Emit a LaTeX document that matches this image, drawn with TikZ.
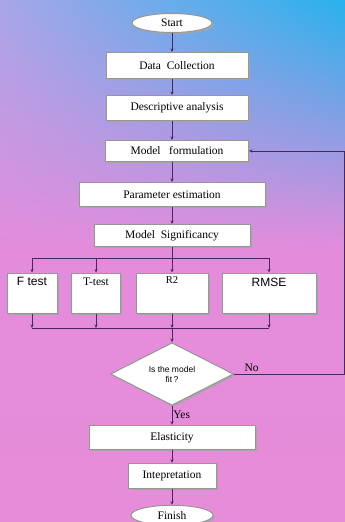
\documentclass[tikz,border=0pt]{standalone}
\usepackage{fontspec}
\setmainfont{Liberation Serif}
\newfontfamily\arialfont{Liberation Sans}
\usetikzlibrary{arrows.meta,positioning,shapes.geometric,shadows,shadings}

\definecolor{skyTL}{RGB}{168,166,232}
\definecolor{skyTR}{RGB}{40,178,236}
\definecolor{pinkL}{RGB}{228,140,220}
\definecolor{pinkB}{RGB}{230,140,216}
\definecolor{lineC}{RGB}{72,40,92}
\definecolor{rimC}{RGB}{150,150,150}

\begin{document}
\begin{tikzpicture}[
  x=1pt, y=-1pt,
  every node/.style={align=center, font=\fontsize{11.5}{13}\selectfont},
  box/.style={draw=rimC, line width=1pt, fill=white, inner sep=0pt,
    drop shadow={shadow xshift=1.5pt, shadow yshift=-1.5pt, fill=gray!70, opacity=1}},
  endbox/.style={box, ellipse},
  testbox/.style={box, minimum height=40pt},
  boxlabel/.style={anchor=north, inner sep=0pt, yshift=-5pt},
  decbox/.style={box, diamond, minimum width=123pt, minimum height=58pt,
    font=\arialfont\fontsize{8.5}{10}\selectfont},
  arrow/.style={-{Stealth[length=3.5pt, width=3pt]}, draw=lineC, line width=0.6pt},
  wire/.style={draw=lineC, line width=0.6pt}
]
  % background
  \shade[upper left=skyTL, upper right=skyTR, lower left=pinkL, lower right=pinkL]
    (0,0) rectangle (345,250);
  \shade[top color=pinkL, bottom color=pinkB] (0,250) rectangle (345,522);
  \useasboundingbox (0,0) rectangle (345,522);

  % main chain
  \node[endbox, minimum width=80pt, minimum height=19pt] (start) at (172,23) {Start};
  \node[box, minimum width=142pt, minimum height=26pt, below=19pt of start, xshift=5pt] (data) {Data\ \ Collection};
  \node[box, minimum width=142pt, minimum height=25pt, below=16pt of data] (desc) {Descriptive analysis};
  \node[box, minimum width=143pt, minimum height=21pt, below=19pt of desc] (model) {Model\ \ \ formulation};
  \node[box, minimum width=186pt, minimum height=24pt, below=20pt of model, xshift=-5pt] (param) {Parameter estimation};
  \node[box, minimum width=156pt, minimum height=22pt, below=17pt of param] (signif) {Model\ \ Significancy};

  % tests
  \node[testbox, minimum width=50pt, label={[boxlabel, font=\arialfont\fontsize{12}{14}\selectfont]north:F test}] (ftest) at (32,293) {};
  \node[testbox, minimum width=49pt, label={[boxlabel]north:T-test}] (ttest) at (96,293) {};
  \node[testbox, minimum width=72pt, label={[boxlabel, yshift=1pt, font=\fontsize{10.5}{12}\selectfont]north:R2}] (rtwo) at (172,293) {};
  \node[testbox, minimum width=94pt, label={[boxlabel, font=\arialfont\fontsize{12}{14}\selectfont]north:RMSE}] (rmse) at (269,293) {};
  \coordinate (split) at (172,258);
  \coordinate (join) at (172,328);

  % decision and end
  \node[decbox] (fit) at (172,374) {Is the model\\fit\,?};
  \node[box, minimum width=166pt, minimum height=24pt, below=19pt of fit] (elast) {Elasticity};
  \node[box, minimum width=88pt, minimum height=25pt, below=13pt of elast] (intep) {Intepretation};
  \node[endbox, minimum width=82pt, minimum height=20pt, below=16pt of intep] (finish) {Finish};
  \coordinate (back) at (344.5,374);

  % connectors
  \draw[arrow] (start) -- (start.south |- data.north);
  \draw[arrow] (start.south |- data.south) -- (start.south |- desc.north);
  \draw[arrow] (start.south |- desc.south) -- (start.south |- model.north);
  \draw[arrow] (start.south |- model.south) -- (param);
  \draw[arrow] (param) -- (signif);
  \draw[wire] (signif) -- (split);
  \draw[wire] (ftest.north |- split) -- (rmse.north |- split);
  \foreach \t in {ftest, ttest, rtwo, rmse}
    \draw[arrow] (\t.north |- split) -- (\t.north);
  \foreach \t in {ftest, ttest, rtwo, rmse}
    \draw[arrow] (\t.south) -- (\t.south |- join);
  \draw[wire] (ftest.south |- join) -- (rmse.south |- join);
  \draw[arrow] (join) -- (fit.north);
  \draw[arrow] (fit.south) -- node[right, inner sep=1pt]{Yes} (elast);
  \draw[arrow] (elast) -- (intep);
  \draw[arrow] (intep) -- (finish);
  \draw[arrow] (fit.east) -- node[above, pos=0.16, inner sep=2pt]{No} (back) |- (model.east);
\end{tikzpicture}
\end{document}
